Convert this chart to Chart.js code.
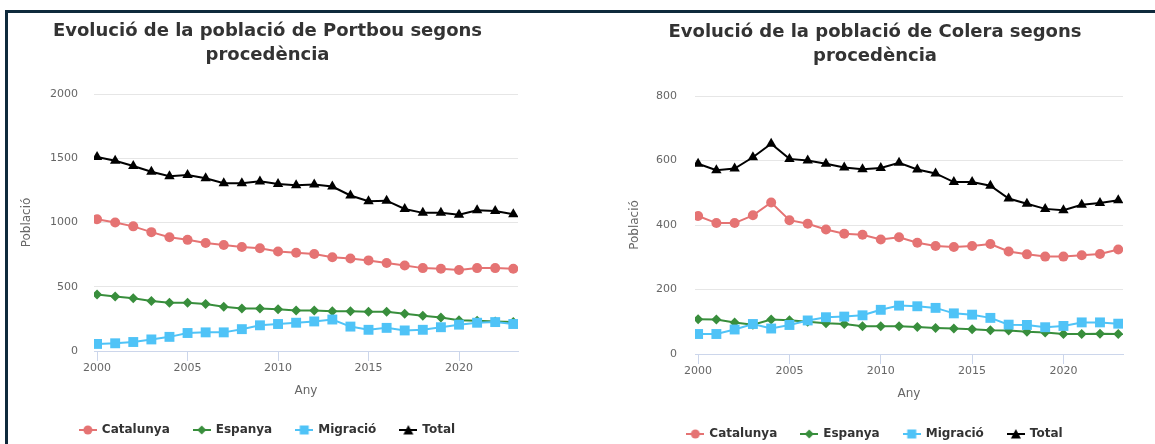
<!DOCTYPE html>
<html>
<head>
<meta charset="utf-8">
<script src="https://cdn.jsdelivr.net/npm/chart.js@4.4.1/dist/chart.umd.min.js"></script>
<style>
html,body{margin:0;padding:0;background:#ffffff;overflow:hidden;width:1155px;height:444px;}
#frame{position:absolute;left:5px;top:10px;width:1160px;height:444px;border-top:3px solid #0f2a3c;border-left:3px solid #0f2a3c;box-sizing:border-box;}
canvas{position:absolute;display:block;}
#c1{left:8px;top:13px;}
#c2{left:620px;top:13px;}
</style>
</head>
<body>
<div id="frame"></div>
<canvas id="c1" width="519" height="433" style="width:519px;height:433px"></canvas>
<canvas id="c2" width="510" height="437" style="width:510px;height:437px"></canvas>
<script>
// ---- data ----
const years = [2000,2001,2002,2003,2004,2005,2006,2007,2008,2009,2010,2011,2012,2013,2014,2015,2016,2017,2018,2019,2020,2021,2022,2023];
const xTickYears = [2000,2005,2010,2015,2020];
const seriesNames = ['Catalunya','Espanya','Migració','Total'];

const portbouTitle = ['Evolució de la població de Portbou segons','procedència'];
const portbouCatalunya = [1025,1000,970,925,885,865,840,825,810,800,775,765,755,730,720,705,685,665,645,640,630,645,645,640];
const portbouEspanya   = [440,425,410,390,375,375,365,345,330,330,325,315,315,310,310,305,305,290,275,260,240,235,230,225];
const portbouMigracio  = [55,60,70,90,110,140,145,145,170,200,210,220,230,245,190,165,180,160,165,185,205,220,225,210];
const portbouTotal     = [1510,1480,1440,1395,1360,1370,1345,1305,1305,1320,1300,1290,1295,1280,1210,1165,1170,1105,1075,1075,1060,1095,1090,1065];
const portbouYMax = 2000;
const portbouYStep = 500;

const coleraTitle = ['Evolució de la població de Colera segons','procedència'];
const coleraCatalunya = [428,406,406,430,470,415,404,386,373,370,355,362,345,335,332,335,341,318,309,302,302,306,310,324];
const coleraEspanya   = [108,107,98,91,107,105,100,95,93,86,86,86,84,81,79,77,74,73,69,67,62,62,63,62];
const coleraMigracio  = [62,62,76,93,79,90,104,114,116,120,137,150,148,143,126,122,112,91,90,83,87,98,98,94];
const coleraTotal     = [590,570,575,610,652,605,600,590,578,573,577,593,572,560,533,533,522,482,466,450,446,463,468,477];
const coleraYMax = 800;
const coleraYStep = 200;

const xAxisTitle = 'Any';
const yAxisTitle = 'Població';

// ---- styles ----
const COLORS = ['#E57373', '#388E3C', '#4FC3F7', '#000000'];
const STYLES = ['circle', 'rectRot', 'rect', 'triangle'];
const RADII  = [5, 5, 7, 6];

Chart.defaults.font.family = "'DejaVu Sans', sans-serif";

function legendIcon(color, style) {
  const c = document.createElement('canvas');
  c.width = 18; c.height = 12;
  const g = c.getContext('2d');
  g.strokeStyle = color; g.lineWidth = 2;
  g.beginPath(); g.moveTo(0, 6); g.lineTo(18, 6); g.stroke();
  g.fillStyle = color; g.beginPath();
  if (style === 'circle') { g.arc(9, 6, 4.5, 0, Math.PI * 2); }
  else if (style === 'rectRot') { g.moveTo(9, 1.5); g.lineTo(13.5, 6); g.lineTo(9, 10.5); g.lineTo(4.5, 6); g.closePath(); }
  else if (style === 'rect') { g.rect(4.5, 1.5, 9, 9); }
  else { g.moveTo(9, 1); g.lineTo(14, 10.5); g.lineTo(4, 10.5); g.closePath(); }
  g.fill();
  return c;
}
const ICONS = COLORS.map((c, i) => legendIcon(c, STYLES[i]));

function build(canvasId, titleLines, seriesValues, yMax, yStep, g) {
  const datasets = seriesNames.map((name, i) => ({
    label: name,
    data: years.map((yr, k) => ({ x: yr, y: seriesValues[i][k] })),
    borderColor: COLORS[i],
    backgroundColor: COLORS[i],
    borderWidth: 2,
    tension: 0,
    pointStyle: STYLES[i],
    pointRadius: RADII[i],
    pointHoverRadius: RADII[i],
    pointBackgroundColor: COLORS[i],
    pointBorderColor: COLORS[i],
    pointBorderWidth: 0,
    order: 4 - i
  }));
  return new Chart(document.getElementById(canvasId), {
    type: 'line',
    data: { datasets },
    options: {
      responsive: false,
      animation: false,
      events: [],
      layout: { padding: 0 },
      plugins: {
        title: {
          display: true, text: titleLines, color: '#333333',
          font: { size: 18, weight: 'bold', lineHeight: 24 / 18 },
          padding: { top: g.titleTop, bottom: g.titleBottom }
        },
        legend: {
          position: 'bottom',
          labels: {
            usePointStyle: true, pointStyleWidth: 16, padding: 24,
            color: '#333333', font: { size: 12, weight: 'bold' },
            generateLabels: chart => chart.data.datasets.map((ds, i) => ({
              text: ds.label, pointStyle: ICONS[i], fillStyle: ds.borderColor,
              strokeStyle: ds.borderColor, lineWidth: 0, hidden: false,
              datasetIndex: i, fontColor: '#333333'
            }))
          }
        },
        tooltip: { enabled: false }
      },
      scales: {
        x: {
          type: 'linear', min: 1999.83, max: 2023.26,
          afterBuildTicks: s => { s.ticks = xTickYears.map(v => ({ value: v })); },
          afterFit: s => { s.height = g.xHeight; s.paddingRight = g.padRight; s.paddingLeft = 0; },
          ticks: { color: '#666666', font: { size: 11 }, padding: 1, maxRotation: 0, autoSkip: false, callback: v => String(v) },
          grid: { display: true, drawOnChartArea: false, drawTicks: true, tickLength: 10, color: '#ccd6eb' },
          border: { display: true, color: '#ccd6eb', width: 1 },
          title: { display: true, text: xAxisTitle, color: '#666666', font: { size: 12 }, padding: { top: 0, bottom: g.xTitleBottom } }
        },
        y: {
          type: 'linear', min: 0, max: yMax,
          afterFit: s => { s.width = g.yWidth; },
          ticks: { stepSize: yStep, color: '#666666', font: { size: 11 }, padding: g.yTickPad, callback: v => String(v) },
          grid: { color: c => (c.tick && c.tick.value === 0) ? 'rgba(0,0,0,0)' : '#e6e6e6', drawTicks: false, lineWidth: 1 },
          border: { display: false },
          title: { display: true, text: yAxisTitle, color: '#666666', font: { size: 12 }, padding: { top: g.yTitleTop, bottom: 0 } }
        }
      }
    }
  });
}

build('c1', portbouTitle, [portbouCatalunya, portbouEspanya, portbouMigracio, portbouTotal], portbouYMax, portbouYStep,
  { titleTop: 6, titleBottom: 27, xHeight: 49, xTitleBottom: 2, padRight: 9, yWidth: 86, yTickPad: 16, yTitleTop: 12 });
build('c2', coleraTitle, [coleraCatalunya, coleraEspanya, coleraMigracio, coleraTotal], coleraYMax, coleraYStep,
  { titleTop: 7, titleBottom: 28, xHeight: 50, xTitleBottom: 3, padRight: 2, yWidth: 75, yTickPad: 18, yTitleTop: 8 });
</script>
</body>
</html>
